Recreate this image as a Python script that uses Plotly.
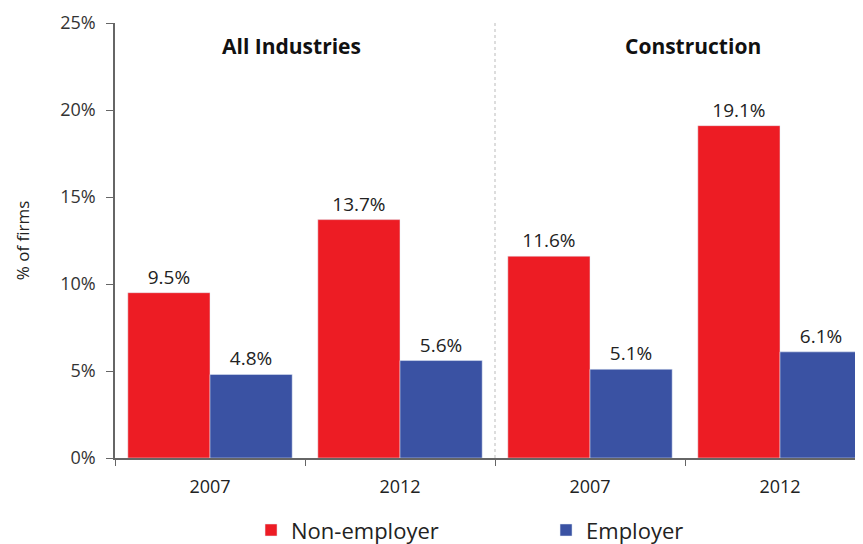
import plotly.graph_objects as go

categories = ["All 2007", "All 2012", "Con 2007", "Con 2012"]
tick_labels = ["2007", "2012", "2007", "2012"]
non_employer = [9.5, 13.7, 11.6, 19.1]
employer = [4.8, 5.6, 5.1, 6.1]
group_titles = ["All Industries", "Construction"]

font = "'Open Sans', sans-serif"

fig = go.Figure()
fig.add_trace(go.Bar(x=categories, y=non_employer, name="Non-employer", marker_color="#ED1C24",
                     text=[f"{v:.1f}%" for v in non_employer], textposition="outside",
                     textfont=dict(size=19, color="#222"), cliponaxis=False))
fig.add_trace(go.Bar(x=categories, y=employer, name="Employer", marker_color="#3A52A3",
                     text=[f"{v:.1f}%" for v in employer], textposition="outside",
                     textfont=dict(size=19, color="#222"), cliponaxis=False))

# separator between the two groups
fig.add_shape(type="line", xref="x", yref="paper", x0=1.5, x1=1.5, y0=0, y1=1,
              line=dict(color="#BBBBBB", width=1, dash="dot"))

fig.add_annotation(x=0.43, y=23.7, xref="x", yref="y", text="<b>" + group_titles[0] + "</b>",
                   showarrow=False, font=dict(size=21, color="#111"))
fig.add_annotation(x=2.54, y=23.7, xref="x", yref="y", text="<b>" + group_titles[1] + "</b>",
                   showarrow=False, font=dict(size=21, color="#111"))

# page body has an 8px margin; the right end of the axis runs past the window like the original
fig.update_layout(
    width=867, height=536,
    margin=dict(l=107, r=0, t=15, b=86, autoexpand=False),
    plot_bgcolor="white", paper_bgcolor="white",
    font=dict(family=font, size=18, color="#333"),
    barmode="group", bargap=0.135, bargroupgap=0,
    showlegend=True,
    legend=dict(orientation="h", x=0.179, xanchor="left", y=-0.166, yanchor="middle",
                font=dict(size=22, color="#222"), entrywidth=250, itemwidth=30),
)
fig.update_xaxes(type="category", tickvals=categories, ticktext=tick_labels, tickson="boundaries",
                 ticks="outside", ticklen=6, tickcolor="#666", showline=True, linecolor="#666",
                 linewidth=1.5, showgrid=False, tickfont=dict(size=18, color="#222"),
                 ticklabelstandoff=12)
fig.update_yaxes(range=[0, 25], dtick=5, ticksuffix="%", ticks="outside", ticklen=7,
                 tickcolor="#666", showline=True, linecolor="#666", linewidth=1.5, showgrid=False,
                 zeroline=False, tickfont=dict(size=18, color="#333"), ticklabelstandoff=7,
                 title=dict(text="% of firms", font=dict(size=17, color="#222"), standoff=26))

fig.write_html("out.html")
